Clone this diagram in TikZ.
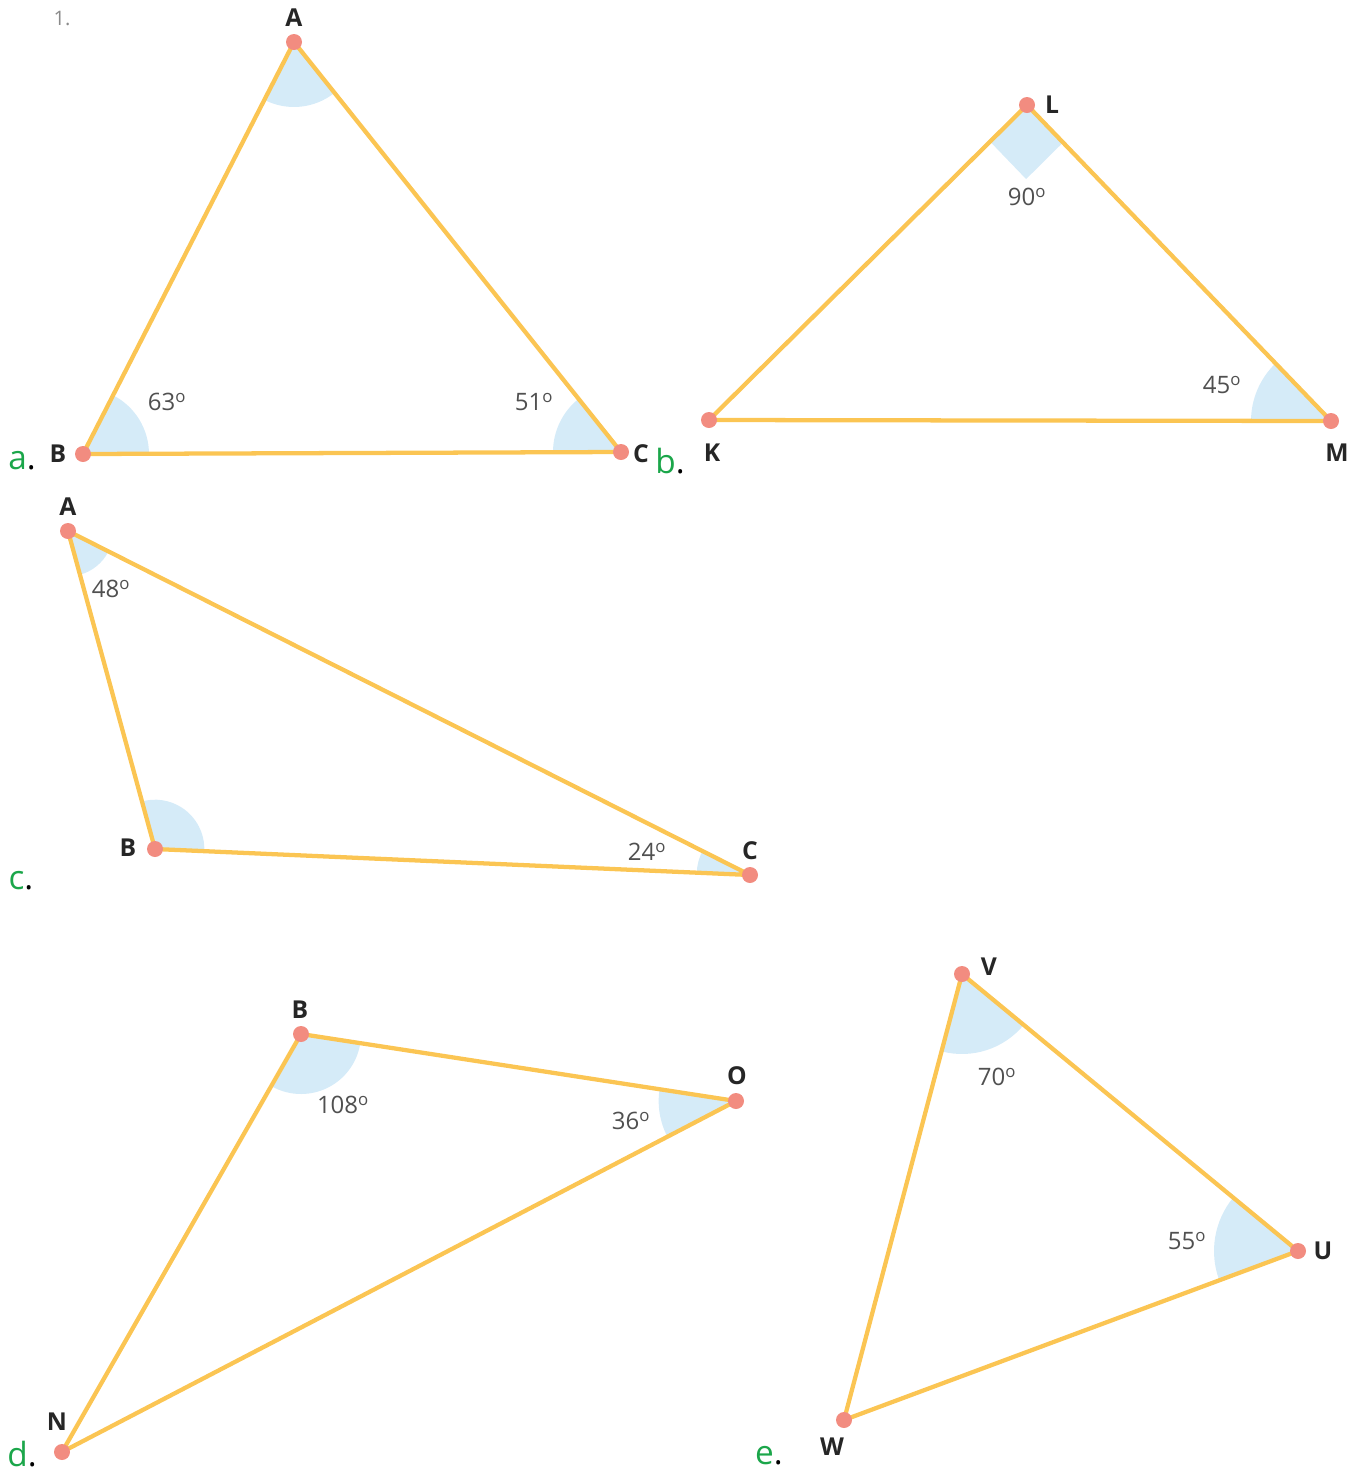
\documentclass[tikz,border=0pt]{standalone}
\usepackage{fontspec}
\setmainfont{Open Sans}
\usetikzlibrary{angles,calc}
\definecolor{edge}{HTML}{FBC553}
\definecolor{vdot}{HTML}{F28C80}
\definecolor{wedge}{HTML}{D5EBF8}
\definecolor{lblgreen}{HTML}{1BA64A}
\definecolor{anggray}{HTML}{505050}
\definecolor{numgray}{HTML}{8A8A8A}
\tikzset{
  side/.style={draw=edge, line width=3.2pt, line join=round},
  vtx/.style={circle, fill=vdot, inner sep=0pt, minimum size=12pt},
  vlab/.style={font=\bfseries\fontsize{18.5}{18.5}\selectfont, text=black!85, inner sep=0pt},
  alab/.style={font=\fontsize{18}{18}\selectfont, text=anggray, inner sep=0pt},
  part/.style={font=\fontsize{25}{25}\selectfont, text=lblgreen, inner sep=0pt},
  wedgefill/.style={fill=wedge, draw=none},
}
\newcommand{\dg}[1]{#1\textsuperscript{o}}
\begin{document}
\begin{tikzpicture}[x=0.75pt, y=-0.75pt]
\useasboundingbox (0,0) rectangle (1361,1472);

% ---------- a ----------
\coordinate (aA) at (294,42);
\coordinate (aB) at (83,454);
\coordinate (aC) at (621,452);
\pic[wedgefill, angle radius=48.75pt] {angle = aB--aA--aC};
\pic[wedgefill, angle radius=49.5pt] {angle = aC--aB--aA};
\pic[wedgefill, angle radius=51pt] {angle = aA--aC--aB};
\draw[side] (aA) -- (aB) -- (aC) -- cycle;
\foreach \p in {aA,aB,aC} \node[vtx] at (\p) {};
\node[font=\fontsize{15}{15}\selectfont, text=numgray, inner sep=0pt] (num) at (62,18) {1.};
\node[vlab] (laA) at (294,18) {A};
\node[vlab] (laB) at (58,454) {B};
\node[vlab] (laC) at (641,454) {C};
\node[alab] (ga) at (167,402) {\dg{63}};
\node[alab] (gc) at (534,402) {\dg{51}};
\node[part] (pa) at (22,461) {a\textcolor{black}{.}};

% ---------- b ----------
\coordinate (bL) at (1027,105);
\coordinate (bK) at (709,420);
\coordinate (bM) at (1331,421);
\coordinate (bl1) at ($(bL)!39pt!(bK)$);
\coordinate (bl2) at ($(bL)!39pt!(bM)$);
\coordinate (bl3) at ($(bl1)+(bl2)-(bL)$);
\fill[wedge] (bL) -- (bl1) -- (bl3) -- (bl2) -- cycle;
\pic[wedgefill, angle radius=60pt] {angle = bL--bM--bK};
\draw[side] (bL) -- (bK) -- (bM) -- cycle;
\foreach \p in {bL,bK,bM} \node[vtx] at (\p) {};
\node[vlab] (lbL) at (1052,105) {L};
\node[vlab] (lbK) at (712,453) {K};
\node[vlab] (lbM) at (1337,453) {M};
\node[alab] (gbL) at (1027,197) {\dg{90}};
\node[alab] (gbM) at (1222,385) {\dg{45}};
\node[part] (pb) at (670,461) {b\textcolor{black}{.}};

% ---------- c ----------
\coordinate (cA) at (68,531);
\coordinate (cB) at (155,849);
\coordinate (cC) at (750,875);
\pic[wedgefill, angle radius=34pt] {angle = cB--cA--cC};
\pic[wedgefill, angle radius=37pt] {angle = cC--cB--cA};
\pic[wedgefill, angle radius=40pt] {angle = cA--cC--cB};
\draw[side] (cA) -- (cB) -- (cC) -- cycle;
\foreach \p in {cA,cB,cC} \node[vtx] at (\p) {};
\node[vlab] (lcA) at (68,507) {A};
\node[vlab] (lcB) at (128,848) {B};
\node[vlab] (lcC) at (750,851) {C};
\node[alab] (gcA) at (111,589) {\dg{48}};
\node[alab] (gcC) at (647,852) {\dg{24}};
\node[part] (pc) at (21,881) {c\textcolor{black}{.}};

% ---------- d ----------
\coordinate (dB) at (301,1034);
\coordinate (dO) at (736,1101);
\coordinate (dN) at (62,1452);
\pic[wedgefill, angle radius=45pt] {angle = dN--dB--dO};
\pic[wedgefill, angle radius=58pt] {angle = dB--dO--dN};
\draw[side] (dB) -- (dO) -- (dN) -- cycle;
\foreach \p in {dB,dO,dN} \node[vtx] at (\p) {};
\node[vlab] (ldB) at (300,1010) {B};
\node[vlab] (ldO) at (737,1076) {O};
\node[vlab] (ldN) at (57,1422) {N};
\node[alab] (gdB) at (343,1105) {\dg{108}};
\node[alab] (gdO) at (631,1121) {\dg{36}};
\node[part] (pd) at (22,1454) {d\textcolor{black}{.}};

% ---------- e ----------
\coordinate (eV) at (962,974);
\coordinate (eU) at (1298,1251);
\coordinate (eW) at (844,1420);
\pic[wedgefill, angle radius=60pt] {angle = eW--eV--eU};
\pic[wedgefill, angle radius=63pt] {angle = eV--eU--eW};
\draw[side] (eV) -- (eU) -- (eW) -- cycle;
\foreach \p in {eV,eU,eW} \node[vtx] at (\p) {};
\node[vlab] (leV) at (989,967) {V};
\node[vlab] (leU) at (1323,1251) {U};
\node[vlab] (leW) at (832,1447) {W};
\node[alab] (geV) at (997,1077) {\dg{70}};
\node[alab] (geU) at (1187,1241) {\dg{55}};
\node[part] (pe) at (769,1456) {e\textcolor{black}{.}};
\end{tikzpicture}
\end{document}
